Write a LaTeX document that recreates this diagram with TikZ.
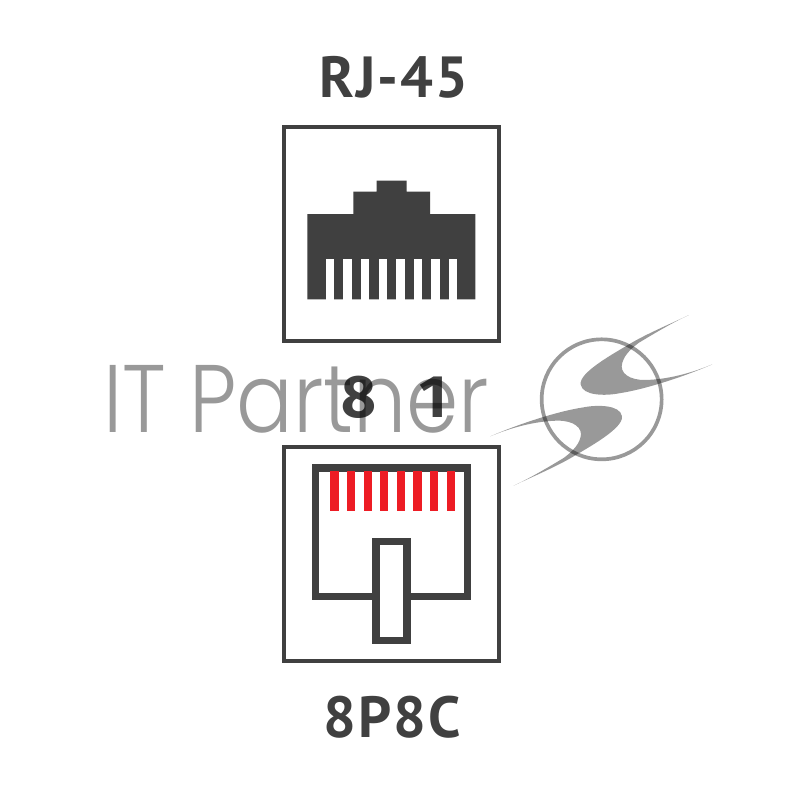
\documentclass[tikz,border=0pt]{standalone}
\usepackage{fontspec}
\setmainfont{PT Sans}
\newfontfamily\wmfont{Poppins Light}
\newfontfamily\capfont[LetterSpace=3.5]{PT Sans Bold}
\newfontfamily\digitfont[Numbers=Proportional]{Fira Sans Bold}
\definecolor{ink}{HTML}{404040}
\definecolor{pinred}{HTML}{ED1C24}
\tikzset{
  framebox/.style={draw=ink,line width=3.6pt,fill=white},
  plugline/.style={draw=ink,line width=7.6pt,miter limit=10},
  title/.style={text=ink,font=\capfont\fontsize{58}{58}\selectfont,inner sep=0pt,anchor=base},
  digit/.style={text=ink,font=\digitfont\fontsize{60}{60}\selectfont,inner sep=0pt,anchor=base},
  wm/.style={text=black,text opacity=.4,font=\wmfont\fontsize{96}{96}\selectfont,inner sep=0pt,anchor=base west,xscale=.875},
  wmshape/.style={fill=black,fill opacity=.4,draw=none},
}
\begin{document}
\begin{tikzpicture}[x=1pt,y=-1pt]
\useasboundingbox (0,0) rectangle (800,800);
% titles
\node[title] (rj) at (394,97) {RJ-45};
\node[title] (pc) at (392,737) {8P8C};
\node[digit] (eight) at (358.5,417) {8};
\node[digit] (one) at (433,417) {1};
% upper frame and plug
\draw[framebox] (284,127) rectangle (499,341);
\fill[ink] (307.3,299.3) -- (307.3,214) -- (353.3,214) -- (353.3,191.7) -- (376.7,191.7) -- (376.7,180.7) -- (406.7,180.7) -- (406.7,191.7) -- (430,191.7) -- (430,214) -- (475.3,214) -- (475.3,299.3) -- cycle;
\foreach \i in {0,...,7}
  \fill[white] ({325.7+17.6*\i},259.3) rectangle ({334.2+17.6*\i},299.5);
% lower frame and jack
\draw[framebox] (284,447) rectangle (499,661);
\draw[plugline] (372,596.5) -- (315.5,596.5) -- (315.5,467.8) -- (467.5,467.8) -- (467.5,596.5) -- (410.7,596.5);
\draw[plugline] (375.8,541.5) rectangle (406.9,640.5);
\foreach \i in {0,...,7}
  \fill[pinred] ({330.3+16.6*\i},471) rectangle ({338.5+16.6*\i},511);
% watermark
\node[wm] (brand) at (103,432) {IT Partner};
\begin{scope}[shift={(479,301)},x=0.3333pt,y=-0.3333pt]
  \draw[draw=black,draw opacity=.4,line width=3.7pt] (368,295) circle[radius=180];
  \fill[wmshape] (630,42) .. controls (560,75) and (500,100) .. (450,130)
     .. controls (400,160) and (300,215) .. (305,250)
     .. controls (310,285) and (380,285) .. (420,277)
     .. controls (500,265) and (620,225) .. (700,190)
     .. controls (640,215) and (570,235) .. (500,237)
     .. controls (450,238) and (420,215) .. (430,185)
     .. controls (437,160) and (460,140) .. (480,125)
     .. controls (530,95) and (580,65) .. (630,42) -- cycle;
  \fill[wmshape] (104,554) .. controls (174,521) and (234,496) .. (284,466)
     .. controls (334,436) and (434,381) .. (429,346)
     .. controls (424,311) and (354,311) .. (314,319)
     .. controls (234,331) and (114,371) .. (34,406)
     .. controls (94,381) and (164,361) .. (234,359)
     .. controls (284,358) and (314,381) .. (304,411)
     .. controls (297,436) and (274,456) .. (254,471)
     .. controls (204,501) and (154,531) .. (104,554) -- cycle;
\end{scope}
\end{tikzpicture}
\end{document}
